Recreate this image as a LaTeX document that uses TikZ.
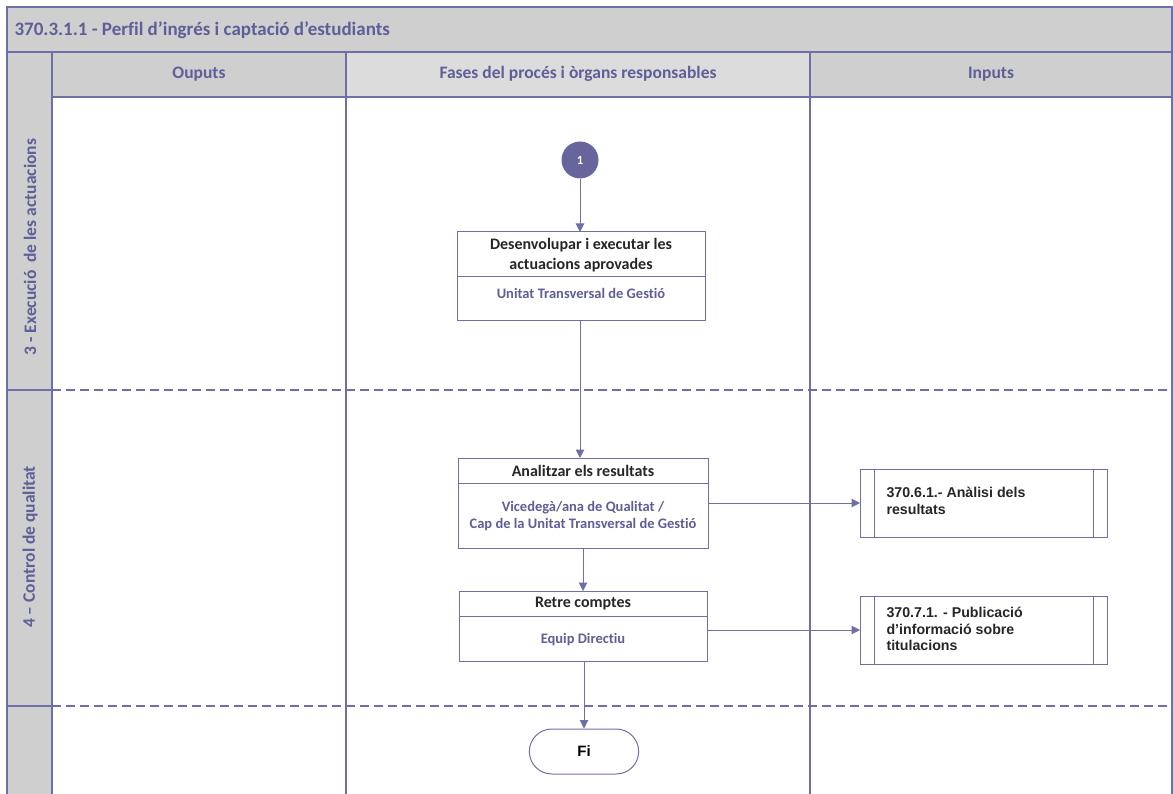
\documentclass[tikz,border=0pt]{standalone}
\usepackage{fontspec}
\setmainfont{Carlito}[Ligatures=NoCommon]
\newfontfamily\arialf{Liberation Sans}
\usetikzlibrary{arrows.meta,shapes.misc}
\definecolor{lanec}{HTML}{6E6EA8}
\definecolor{txtc}{HTML}{5E5E98}
\definecolor{hdr}{HTML}{CFCFCF}
\definecolor{hdrl}{HTML}{DCDCDC}
\definecolor{circc}{HTML}{66669C}
\tikzset{
  frame/.style={draw=lanec, line width=1.3pt},
  lanedash/.style={draw=lanec, line width=2pt, dash pattern=on 9pt off 5pt},
  flow/.style={draw=lanec, line width=1pt, -{Triangle[length=8.5pt,width=8.5pt]}},
  boxframe/.style={draw=lanec, line width=1pt, fill=white},
  hdrtext/.style={text=txtc, font=\bfseries\fontsize{17.5}{21}\selectfont},
  ttext/.style={text=black!85, font=\bfseries\fontsize{16}{19.5}\selectfont, align=center},
  stext/.style={text=txtc, font=\bfseries\fontsize{14.5}{16.5}\selectfont, align=center},
  itext/.style={text=black!85, font=\arialf\bfseries\fontsize{14.2}{16.5}\selectfont, align=left, anchor=west},
}
\begin{document}
\begin{tikzpicture}[x=1pt,y=-1pt]
\useasboundingbox (0,0) rectangle (1173,794);
% backgrounds
\fill[hdr] (7,7) rectangle (1172,52);
\fill[hdr] (52,52) rectangle (346,97);
\fill[hdrl] (346,52) rectangle (810,97);
\fill[hdr] (810,52) rectangle (1172,97);
\fill[hdr] (7,52) rectangle (52,794);
% lane separators
\draw[lanedash] (52,390) -- (1172,390);
\draw[lanedash] (52,706) -- (1172,706);
% frame lines
\draw[frame] (7,794) -- (7,7) -- (1172,7) -- (1172,794);
\draw[frame] (7,52) -- (1172,52);
\draw[frame] (52,97) -- (1172,97);
\draw[frame] (52,52) -- (52,794);
\draw[frame] (346,52) -- (346,794);
\draw[frame] (810,52) -- (810,794);
\draw[frame] (7,390) -- (52,390);
\draw[frame] (7,706) -- (52,706);
% headers
\node[hdrtext, anchor=west, font=\bfseries\fontsize{19}{22}\selectfont] (title) at (11,30) {370.3.1.1 - Perfil d’ingrés i captació d’estudiants};
\node[hdrtext] (hout) at (199,74) {Ouputs};
\node[hdrtext] (hfas) at (578,74) {Fases del procés i òrgans responsables};
\node[hdrtext] (hin) at (991,74) {Inputs};
\node[hdrtext, rotate=90] (lane3) at (30,247) {3 - Execució\ \ de les actuacions};
\node[hdrtext, rotate=90] (lane4) at (30,547) {4 – Control de qualitat};
% start circle
\node[circle, fill=circc, minimum size=37pt, inner sep=0pt, text=white, font=\bfseries\fontsize{12.5}{14}\selectfont] (c1) at (580,160) {1};
% box 1
\draw[boxframe] (457,232) rectangle (705,321);
\draw[draw=lanec, line width=1pt] (457,277) -- (705,277);
\coordinate (b1t) at (580,232);
\coordinate (b1b) at (580,321);
\node[ttext] (b1title) at (581,255) {Desenvolupar i executar les\\actuacions aprovades};
\node[stext] (b1sub) at (581,293) {Unitat Transversal de Gestió};
% box 2
\draw[boxframe] (458,458) rectangle (708,548);
\draw[draw=lanec, line width=1pt] (458,483) -- (708,483);
\coordinate (b2t) at (580,458);
\coordinate (b2b) at (583,548);
\coordinate (b2r) at (708,503);
\node[ttext] (b2title) at (583,470.5) {Analitzar els resultats};
\node[stext] (b2sub) at (583,516) {Vicedegà/ana de Qualitat /\\Cap de la Unitat Transversal de Gestió};
% box 3
\draw[boxframe] (459,591) rectangle (707,661);
\draw[draw=lanec, line width=1pt] (459,616) -- (707,616);
\coordinate (b3t) at (583,591);
\coordinate (b3b) at (584,661);
\coordinate (b3r) at (707,630);
\node[ttext] (b3title) at (583,604) {Retre comptes};
\node[stext] (b3sub) at (583,640) {Equip Directiu};
% Fi
\node[rounded rectangle, draw=lanec, line width=1pt, minimum width=116pt, minimum height=45pt, font=\arialf\bfseries\fontsize{15}{17}\selectfont] (fi) at (584,751.5) {Fi};
% input boxes
\draw[boxframe] (860,469) rectangle (1107,537);
\draw[draw=lanec, line width=1pt] (874,469) -- (874,537) (1093,469) -- (1093,537);
\coordinate (i1l) at (860,503);
\node[itext] (i1) at (883,501) {370.6.1.- Anàlisi dels\\resultats};
\draw[boxframe] (860,596) rectangle (1107,664);
\draw[draw=lanec, line width=1pt] (874,596) -- (874,664) (1093,596) -- (1093,664);
\coordinate (i2l) at (860,630);
\node[itext] (i2) at (883,629) {370.7.1. - Publicació\\d’informació sobre\\titulacions};
% connectors
\draw[flow] (c1) -- (b1t);
\draw[flow] (b1b) -- (b2t);
\draw[flow] (b2b) -- (b3t);
\draw[flow] (b3b) -- (fi.north);
\draw[flow] (b2r) -- (i1l);
\draw[flow] (b3r) -- (i2l);
\end{tikzpicture}
\end{document}
